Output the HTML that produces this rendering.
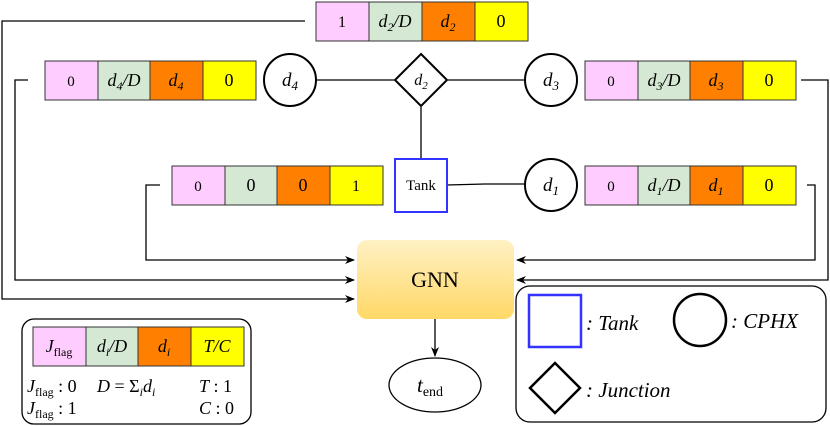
<!DOCTYPE html>
<html><head><meta charset="utf-8"><style>
html,body{margin:0;padding:0;background:#fff;}
svg{display:block;}
text{font-family:"Liberation Serif",serif;}
.m{font-style:italic;}
</style></head><body>
<svg width="830" height="426" viewBox="0 0 830 426" xmlns="http://www.w3.org/2000/svg">
<defs>
<marker id="ar" markerWidth="10" markerHeight="8" refX="9" refY="4" orient="auto" markerUnits="userSpaceOnUse">
<path d="M0,0 L10,4 L0,8 L3,4 Z" fill="#000"/></marker>
<linearGradient id="g" x1="0" y1="0" x2="0" y2="1"><stop offset="0" stop-color="#fff1c4"/><stop offset="1" stop-color="#ffd866"/></linearGradient>
</defs>
<g stroke="#000" stroke-width="1.3" fill="none">
<polyline points="305,21 2,21 2,299 354,299" marker-end="url(#ar)"/>
<polyline points="28,80 15,80 15,280 354,280" marker-end="url(#ar)"/>
<polyline points="160,185 146,185 146,260 354,260" marker-end="url(#ar)"/>
<polyline points="801,80 828,80 828,280 517,280" marker-end="url(#ar)"/>
<polyline points="807,185 815,185 815,260 517,260" marker-end="url(#ar)"/>
<line x1="316" y1="80" x2="394" y2="80"/>
<line x1="448" y1="80" x2="525" y2="80"/>
<line x1="421" y1="107" x2="421" y2="159"/>
<polyline points="447,185 485,184 525,184"/>
<line x1="435" y1="319" x2="435" y2="356" marker-end="url(#ar)"/>
</g>
<g stroke="#333" stroke-width="1">
<rect x="316" y="2" width="53" height="39" fill="#ffccff"/><rect x="369" y="2" width="53" height="39" fill="#d5e8d4"/><rect x="422" y="2" width="53" height="39" fill="#ff8000"/><rect x="475" y="2" width="53" height="39" fill="#ffff00"/>
<rect x="45" y="61" width="53" height="39" fill="#ffccff"/><rect x="98" y="61" width="52" height="39" fill="#d5e8d4"/><rect x="150" y="61" width="53" height="39" fill="#ff8000"/><rect x="203" y="61" width="53" height="39" fill="#ffff00"/>
<rect x="585" y="61" width="53" height="39" fill="#ffccff"/><rect x="638" y="61" width="52" height="39" fill="#d5e8d4"/><rect x="690" y="61" width="53" height="39" fill="#ff8000"/><rect x="743" y="61" width="53" height="39" fill="#ffff00"/>
<rect x="172" y="166" width="53" height="39" fill="#ffccff"/><rect x="225" y="166" width="52" height="39" fill="#d5e8d4"/><rect x="277" y="166" width="53" height="39" fill="#ff8000"/><rect x="330" y="166" width="53" height="39" fill="#ffff00"/>
<rect x="585" y="166" width="53" height="39" fill="#ffccff"/><rect x="638" y="166" width="52" height="39" fill="#d5e8d4"/><rect x="690" y="166" width="53" height="39" fill="#ff8000"/><rect x="743" y="166" width="53" height="39" fill="#ffff00"/>
<rect x="33" y="327" width="53" height="39" fill="#ffccff"/><rect x="86" y="327" width="52" height="39" fill="#d5e8d4"/><rect x="138" y="327" width="53" height="39" fill="#ff8000"/><rect x="191" y="327" width="53" height="39" fill="#ffff00"/>
</g>
<g font-size="18" text-anchor="middle" fill="#000">
<text x="342" y="27" font-size="16">1</text><text x="395" y="27" class="m">d<tspan font-size="12" dy="4">2</tspan><tspan dy="-4">/D</tspan></text><text x="448" y="27" class="m">d<tspan font-size="12" dy="4">2</tspan></text><text x="501" y="27">0</text>
<text x="71" y="86" font-size="15">0</text><text x="124" y="86" class="m">d<tspan font-size="12" dy="4">4</tspan><tspan dy="-4">/D</tspan></text><text x="176" y="86" class="m">d<tspan font-size="12" dy="4">4</tspan></text><text x="229" y="86">0</text>
<text x="611" y="86" font-size="15">0</text><text x="664" y="86" class="m">d<tspan font-size="12" dy="4">3</tspan><tspan dy="-4">/D</tspan></text><text x="716" y="86" class="m">d<tspan font-size="12" dy="4">3</tspan></text><text x="769" y="86">0</text>
<text x="198" y="191" font-size="15">0</text><text x="251" y="191">0</text><text x="303" y="191">0</text><text x="356" y="191" font-size="16">1</text>
<text x="611" y="191" font-size="15">0</text><text x="664" y="191" class="m">d<tspan font-size="12" dy="4">1</tspan><tspan dy="-4">/D</tspan></text><text x="716" y="191" class="m">d<tspan font-size="12" dy="4">1</tspan></text><text x="769" y="191">0</text>
<text x="59" y="352" class="m">J<tspan font-size="12" font-style="normal" dy="4">flag</tspan></text><text x="112" y="352" class="m">d<tspan font-size="12" dy="4">i</tspan><tspan dy="-4">/D</tspan></text><text x="164" y="352" class="m">d<tspan font-size="12" dy="4">i</tspan></text><text x="217" y="352" class="m">T/C</text>
</g>
<g stroke="#000" stroke-width="2" fill="#fff">
<circle cx="290" cy="80" r="26"/><circle cx="551" cy="80" r="26"/><circle cx="551" cy="185" r="26"/>
<polygon points="421,54 447,80 421,106 395,80"/>
<rect x="395" y="159" width="52" height="53" stroke="#3333ff"/>
</g>
<g font-size="19" text-anchor="middle" class="m">
<text x="290" y="86">d<tspan font-size="13" dy="4">4</tspan></text><text x="551" y="86">d<tspan font-size="13" dy="4">3</tspan></text><text x="551" y="191">d<tspan font-size="13" dy="4">1</tspan></text><text x="421" y="85" font-size="16">d<tspan font-size="11" dy="4">2</tspan></text>
</g>
<text x="421" y="190" font-size="15" text-anchor="middle">Tank</text>
<rect x="357" y="240" width="157" height="79" rx="10" fill="url(#g)"/>
<text x="435" y="287" font-size="22" text-anchor="middle">GNN</text>
<ellipse cx="435" cy="385" rx="46" ry="27" fill="#fff" stroke="#000" stroke-width="1.3"/>
<text x="430" y="392" font-size="21" text-anchor="middle" class="m">t<tspan font-size="14" font-style="normal" dy="4">end</tspan></text>
<rect x="22" y="319" width="229" height="105" rx="12" fill="none" stroke="#000" stroke-width="1.3"/>
<g font-size="18">
<text x="27" y="392" class="m">J<tspan font-size="12" font-style="normal" dy="4">flag</tspan><tspan dy="-4" font-style="normal"> : 0</tspan></text>
<text x="97" y="392" class="m">D <tspan font-style="normal">= Σ</tspan><tspan font-size="12" dy="4">i</tspan><tspan dy="-4">d</tspan><tspan font-size="12" dy="4">i</tspan></text>
<text x="199" y="392" class="m">T<tspan font-style="normal"> : 1</tspan></text>
<text x="27" y="414" class="m">J<tspan font-size="12" font-style="normal" dy="4">flag</tspan><tspan dy="-4" font-style="normal"> : 1</tspan></text>
<text x="199" y="414" class="m">C<tspan font-style="normal"> : 0</tspan></text>
</g>
<rect x="516" y="286" width="310" height="136" rx="14" fill="none" stroke="#000" stroke-width="1.3"/>
<rect x="529" y="295" width="52" height="52" fill="none" stroke="#3333ff" stroke-width="2.5"/>
<circle cx="700" cy="320" r="26" fill="none" stroke="#000" stroke-width="2.5"/>
<polygon points="555,363 580,388 555,413 530,388" fill="none" stroke="#000" stroke-width="2.5"/>
<g font-size="21" class="m">
<text x="586" y="330">: Tank</text>
<text x="731" y="328">: CPHX</text>
<text x="586" y="397">: Junction</text>
</g>
</svg>
</body></html>
